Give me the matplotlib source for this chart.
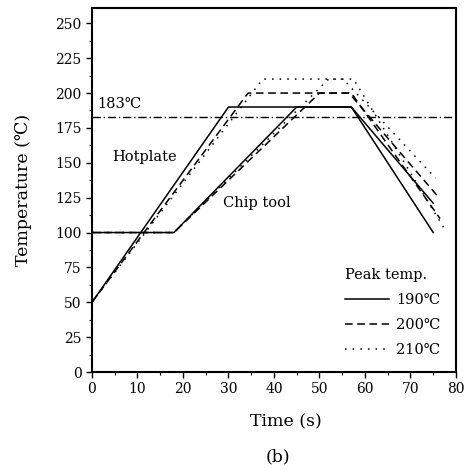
import matplotlib
matplotlib.use("Agg")
import matplotlib.pyplot as plt
from matplotlib.lines import Line2D
from matplotlib.ticker import MultipleLocator

plt.rcParams['font.family'] = ['DejaVu Serif', 'DejaVu Sans']

# Hotplate curves (time s, temperature C)
hp_t_190 = [0, 30, 57, 75]
hp_T_190 = [50, 190, 190, 100]
hp_t_200 = [0, 34.3, 56.5, 76]
hp_T_200 = [50, 200, 200, 126]
hp_t_210 = [0, 37.5, 55.2, 75.5]
hp_T_210 = [50, 210, 210, 139]

# Chip tool curves
ct_t_190 = [0, 18, 45, 57, 75]
ct_T_190 = [100, 100, 190, 190, 121]
ct_t_200 = [0, 18, 50, 57, 76.5]
ct_T_200 = [100, 100, 200, 200, 110]
ct_t_210 = [0, 18, 52, 57.5, 77.6]
ct_T_210 = [100, 100, 210, 210, 102]

melt_T = 183
peak_labels = ['190\u2103', '200\u2103', '210\u2103']

solid = '-'
dashed = (0, (5, 3))
dotted = (0, (1, 4))
styles = [solid, dashed, dotted]
lw = 1.1

fig = plt.figure(figsize=(4.71, 4.70), dpi=100)
ax = fig.add_axes([0.1953, 0.2085, 0.7728, 0.7745])

hp = [(hp_t_190, hp_T_190), (hp_t_200, hp_T_200), (hp_t_210, hp_T_210)]
ct = [(ct_t_190, ct_T_190), (ct_t_200, ct_T_200), (ct_t_210, ct_T_210)]
for (t, T), ls in zip(hp, styles):
    ax.plot(t, T, color='black', lw=lw, linestyle=ls)
for (t, T), ls in zip(ct, styles):
    ax.plot(t, T, color='black', lw=lw, linestyle=ls)

ax.axhline(melt_T, color='black', lw=1.0, linestyle=(0, (6, 2, 1, 2)))

ax.text(1.2, 187, '183\u2103', fontsize=10.5, ha='left', va='bottom')
ax.text(11.6, 154.5, 'Hotplate', fontsize=10.5, ha='center', va='center')
ax.text(36.3, 121.5, 'Chip tool', fontsize=10.5, ha='center', va='center')

ax.set_xlim(0, 80)
ax.set_ylim(0, 261)
ax.xaxis.set_major_locator(MultipleLocator(10))
ax.xaxis.set_minor_locator(MultipleLocator(5))
ax.yaxis.set_major_locator(MultipleLocator(25))
ax.yaxis.set_minor_locator(MultipleLocator(12.5))
ax.tick_params(which='major', direction='out', length=4, width=1.0, labelsize=10)
ax.tick_params(which='minor', direction='out', length=2.5, width=0.8)
for s in ax.spines.values():
    s.set_linewidth(1.5)

ax.set_xlabel('Time (s)', fontsize=12.5)
ax.xaxis.set_label_coords(0.533, -0.115)
ax.set_ylabel('Temperature (\u2103)', fontsize=12.5)
ax.yaxis.set_label_coords(-0.165, 0.5)

handles = [Line2D([], [], color='black', lw=lw, linestyle=ls) for ls in styles]
leg = ax.legend(handles, peak_labels, title='Peak temp.', loc='upper left',
                bbox_to_anchor=(0.695, 0.285), frameon=False, fontsize=10.5,
                title_fontsize=10.5, handlelength=3.0, handletextpad=0.5,
                labelspacing=0.75, borderpad=0, borderaxespad=0, alignment='left')

fig.text(0.59, 0.01, '(b)', fontsize=12.5, ha='center', va='bottom')

fig.savefig('out.png', dpi=100)
